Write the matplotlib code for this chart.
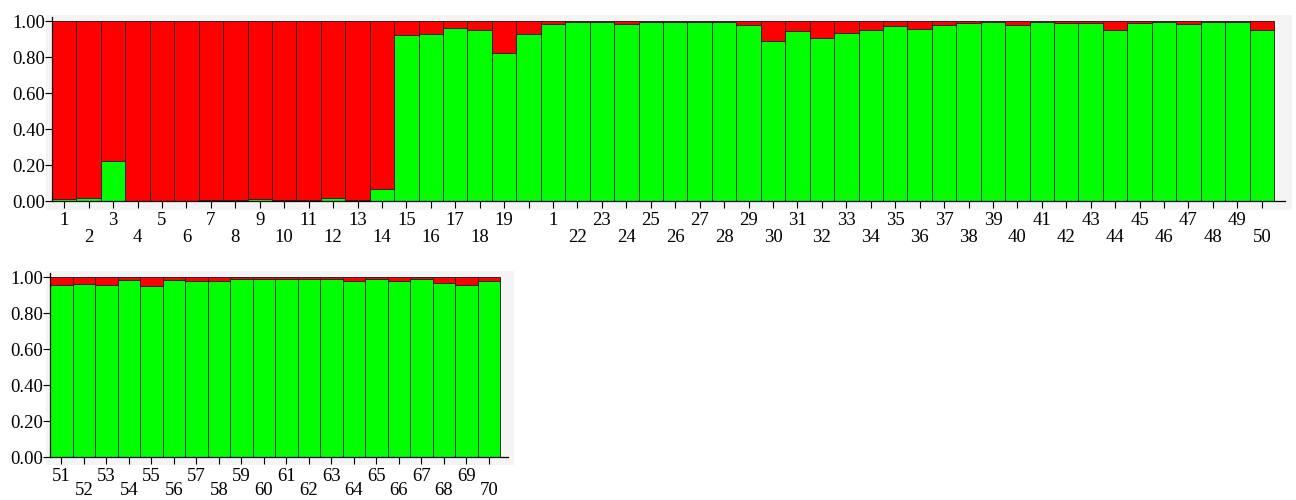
import matplotlib
matplotlib.use("Agg")
import matplotlib.pyplot as plt
from matplotlib.ticker import FixedLocator, FixedFormatter
from matplotlib.patches import Rectangle

# Green (cluster 2) membership proportion per individual; red = 1 - green
green_row1 = [0.011, 0.017, 0.225, 0.0, 0.0, 0.0, 0.003, 0.003, 0.010, 0.003,
              0.003, 0.017, 0.003, 0.069, 0.920, 0.929, 0.963, 0.948, 0.823, 0.929,
              0.985, 0.993, 0.993, 0.985, 0.994, 0.994, 0.994, 0.994, 0.978, 0.887,
              0.942, 0.907, 0.935, 0.948, 0.970, 0.957, 0.978, 0.987, 0.993, 0.978,
              0.994, 0.987, 0.987, 0.950, 0.987, 0.993, 0.985, 0.993, 0.993, 0.948]
green_row2 = [0.956, 0.963, 0.956, 0.983, 0.948, 0.983, 0.976, 0.976, 0.991, 0.991,
              0.991, 0.991, 0.991, 0.976, 0.991, 0.976, 0.991, 0.969, 0.956, 0.976]
labels_row1 = [str(i) for i in range(1, 20)] + ["", "1"] + [str(i) for i in range(22, 51)]
labels_row2 = [str(i) for i in range(51, 71)]
yticks = [0.0, 0.2, 0.4, 0.6, 0.8, 1.0]

RED = "#ff0000"
GREEN = "#00ff00"
FS = 13.5

plt.rcParams['font.family'] = ['Liberation Serif', 'DejaVu Serif']

W, H = 1296, 500
fig = plt.figure(figsize=(W / 100, H / 100), dpi=100)


def bg(x0, y0, x1, y1):
    fig.patches.append(Rectangle((x0 / W, 1 - y1 / H), (x1 - x0) / W, (y1 - y0) / H,
                                 transform=fig.transFigure, facecolor="#f4f4f4",
                                 edgecolor="none", zorder=-5))


def draw(ax_rect, green, labels, spine_extra, minor_pad):
    x0, y0, x1, y1 = ax_rect  # pixel coords (top-left origin)
    ax = fig.add_axes([x0 / W, 1 - y1 / H, (x1 - x0) / W, (y1 - y0) / H])
    ax.set_zorder(2)
    n = len(green)
    xs = list(range(n))
    red = [1 - g for g in green]
    ax.bar(xs, green, width=1.0, color=GREEN, edgecolor="#1f3a1f", linewidth=0.7, zorder=2)
    ax.bar(xs, red, bottom=green, width=1.0, color=RED, edgecolor="#3a1f1f", linewidth=0.7, zorder=2)
    ax.set_xlim(-0.5, n - 0.5 + spine_extra)
    ax.set_ylim(0, 1.0)
    for s in ["top", "right"]:
        ax.spines[s].set_visible(False)
    ax.spines["left"].set_bounds(0, 1.02)
    ax.spines["left"].set_linewidth(0.9)
    ax.spines["bottom"].set_linewidth(0.9)
    ax.set_yticks(yticks)
    ax.set_yticklabels([f"{v:.2f}" for v in yticks], fontsize=FS)
    ax.tick_params(axis="y", length=5, pad=0, width=0.8)
    odd = [i for i in xs if i % 2 == 0]
    even = [i for i in xs if i % 2 == 1]
    ax.xaxis.set_major_locator(FixedLocator(odd))
    ax.xaxis.set_major_formatter(FixedFormatter([labels[i] for i in odd]))
    ax.xaxis.set_minor_locator(FixedLocator(even))
    ax.xaxis.set_minor_formatter(FixedFormatter([labels[i] for i in even]))
    ax.tick_params(axis="x", which="major", length=5, pad=3, labelsize=FS, width=0.8)
    ax.tick_params(axis="x", which="minor", length=5, pad=minor_pad, labelsize=FS, width=0.8)
    ax.patch.set_visible(False)
    return ax


bg(46, 15, 1292, 210)
bg(46, 271, 514, 465)
draw((52, 21, 1285, 201), green_row1, labels_row1, 0.45, 15)
draw((50, 277, 508, 457), green_row2, labels_row2, 0.35, 13)

fig.savefig("out.png", dpi=100, facecolor="white")
